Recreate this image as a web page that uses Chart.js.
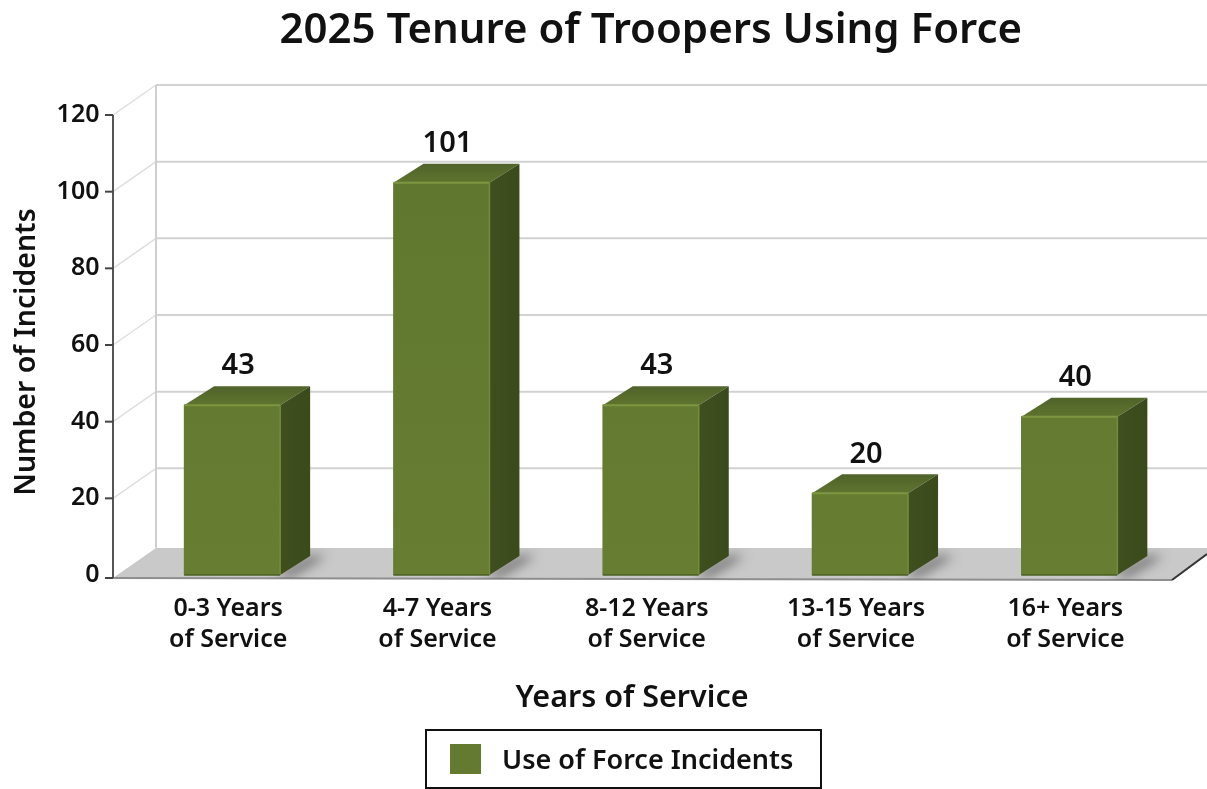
<!DOCTYPE html>
<html>
<head>
<meta charset="utf-8">
<title>2025 Tenure of Troopers Using Force</title>
<script src="https://cdn.jsdelivr.net/npm/chart.js@4"></script>
<style>
  html, body { margin: 0; padding: 0; background: #fff; overflow: hidden; }
  canvas { display: block; }
</style>
</head>
<body>
<canvas id="chart" width="1207" height="789"></canvas>
<script>
const chartTitle = '2025 Tenure of Troopers Using Force';
const xTitle = 'Years of Service';
const yTitle = 'Number of Incidents';
const seriesName = 'Use of Force Incidents';
const categories = [
  ['0-3 Years', 'of Service'],
  ['4-7 Years', 'of Service'],
  ['8-12 Years', 'of Service'],
  ['13-15 Years', 'of Service'],
  ['16+ Years', 'of Service']
];
const incidents = [43, 101, 43, 20, 40];
const yTicks = [0, 20, 40, 60, 80, 100, 120];

const FONT = '"Noto Sans", sans-serif';
const TEXT = '#111';

// fake 3d: how far the back wall and the bar depth sit from the front plane
const WALL_DX = 43, WALL_DY = -30;
const BAR_DX = 30, BAR_DY = -19;
const BAR_LIFT = 5;
const AXIS_X = 113;

function poly(ctx, pts, fill) {
  ctx.beginPath();
  pts.forEach((p, i) => i ? ctx.lineTo(p[0], p[1]) : ctx.moveTo(p[0], p[1]));
  ctx.closePath();
  if (fill) { ctx.fillStyle = fill; ctx.fill(); }
}

function line(ctx, x1, y1, x2, y2, color, width) {
  ctx.strokeStyle = color;
  ctx.lineWidth = width;
  ctx.beginPath();
  ctx.moveTo(x1, y1);
  ctx.lineTo(x2, y2);
  ctx.stroke();
}

function text(ctx, str, x, y, font) {
  ctx.font = font;
  ctx.fillStyle = TEXT;
  ctx.textAlign = 'center';
  ctx.textBaseline = 'middle';
  ctx.fillText(str, x, y);
}

const box3d = {
  id: 'box3d',
  afterDatasetsUpdate(chart) {
    // front faces sit a little inside the plot, so the tops rise off the grid
    chart.getDatasetMeta(0).data.forEach(bar => {
      bar.y -= BAR_LIFT;
      bar.height = bar.base - bar.y;
    });
  },
  beforeDatasetsDraw(chart) {
    const { ctx, scales: { y }, width } = chart;
    const zero = y.getPixelForValue(0);
    const backX = AXIS_X + WALL_DX;
    const top = y.getPixelForValue(120);
    ctx.save();

    // floor
    const floorBack = zero - 27;
    const floor = [[AXIS_X, zero + 3], [backX, floorBack], [width, floorBack], [width, 555], [1172, zero + 5]];
    poly(ctx, floor, '#c9c9c9');

    // walls and grid
    yTicks.forEach(v => {
      const py = y.getPixelForValue(v);
      if (v > 0) {
        line(ctx, backX, py + WALL_DY, width, py + WALL_DY, '#d2d2d2', 2);
        line(ctx, AXIS_X, py, backX, py + WALL_DY, '#dedede', 1.5);
      }
    });
    line(ctx, backX, top + WALL_DY, backX, floorBack, '#cfcfcf', 2);

    // floor edges
    line(ctx, AXIS_X, zero + 3, 1172, zero + 5, '#8e8e8e', 2);
    line(ctx, 1172, zero + 5, width, 554, '#333', 2);

    // bar shadows on the floor
    ctx.save();
    poly(ctx, floor);
    ctx.clip();
    ctx.filter = 'blur(6px)';
    chart.getDatasetMeta(0).data.forEach(bar => {
      const r = bar.x + bar.width / 2;
      poly(ctx, [[r - 4, bar.base], [r + BAR_DX, bar.base + BAR_DY], [r + BAR_DX + 16, bar.base + BAR_DY], [r + 10, bar.base + 2]], 'rgba(40,40,40,.6)');
    });
    ctx.restore();

    // value axis
    line(ctx, AXIS_X, top, AXIS_X, zero + 3, '#555', 2);
    yTicks.forEach(v => {
      const py = y.getPixelForValue(v);
      line(ctx, AXIS_X - 8, v ? py : zero + 3, AXIS_X, v ? py : zero + 3, '#444', 2);
    });
    ctx.restore();
  },
  afterDatasetsDraw(chart) {
    const { ctx } = chart;
    ctx.save();
    chart.getDatasetMeta(0).data.forEach((bar, i) => {
      const l = bar.x - bar.width / 2, r = bar.x + bar.width / 2;

      const topFace = ctx.createLinearGradient(0, bar.y + BAR_DY, 0, bar.y);
      topFace.addColorStop(0, '#50632a');
      topFace.addColorStop(1, '#5f742e');
      poly(ctx, [[l, bar.y], [l + BAR_DX, bar.y + BAR_DY], [r + BAR_DX, bar.y + BAR_DY], [r, bar.y]], topFace);

      const sideFace = ctx.createLinearGradient(r, 0, r + BAR_DX, 0);
      sideFace.addColorStop(0, '#3f4f1e');
      sideFace.addColorStop(1, '#3a4a1b');
      poly(ctx, [[r, bar.y], [r + BAR_DX, bar.y + BAR_DY], [r + BAR_DX, bar.base + BAR_DY], [r, bar.base]], sideFace);

      line(ctx, l, bar.y, r, bar.y, '#7d9642', 2);
      line(ctx, r, bar.y, r, bar.base, '#748c3c', 1.5);
      line(ctx, l, bar.base, r, bar.base, '#4d6024', 1.5);

      text(ctx, String(incidents[i]), bar.x + 6, bar.y + BAR_DY - 20, `600 29px ${FONT}`);
    });

    // axis titles
    text(ctx, xTitle, 632, 698, `600 30.5px ${FONT}`);
    ctx.save();
    ctx.translate(27, 352);
    ctx.rotate(-Math.PI / 2);
    text(ctx, yTitle, 0, 0, `600 28.5px ${FONT}`);
    ctx.restore();

    // legend
    ctx.strokeStyle = '#111';
    ctx.lineWidth = 2;
    ctx.strokeRect(426, 730, 395, 58);
    ctx.fillStyle = '#647a30';
    ctx.fillRect(450, 744, 31, 30);
    ctx.font = `600 27px ${FONT}`;
    ctx.fillStyle = TEXT;
    ctx.textAlign = 'left';
    ctx.textBaseline = 'middle';
    ctx.fillText(seriesName, 502, 761);
    ctx.restore();
  }
};

new Chart(document.getElementById('chart'), {
  type: 'bar',
  data: {
    labels: categories,
    datasets: [{
      label: seriesName,
      data: incidents,
      barThickness: 96,
      borderWidth: 0,
      backgroundColor(c) {
        const area = c.chart.chartArea;
        if (!area) return '#647a30';
        const g = c.chart.ctx.createLinearGradient(0, area.top, 0, area.bottom);
        g.addColorStop(0, '#5f762e');
        g.addColorStop(1, '#667d32');
        return g;
      }
    }]
  },
  options: {
    responsive: false,
    animation: false,
    layout: { padding: { right: 33 } },
    plugins: {
      legend: { display: false },
      tooltip: { enabled: false },
      title: {
        display: true,
        text: chartTitle,
        fullSize: false,
        color: TEXT,
        font: { family: FONT, size: 42, weight: '600', lineHeight: 1.2 },
        padding: { top: 6, bottom: 58.6 }
      }
    },
    scales: {
      x: {
        grid: { display: false },
        border: { display: false },
        afterFit(s) { s.height = 214; },
        ticks: {
          color: TEXT,
          font: { family: FONT, size: 25, weight: '600', lineHeight: 1.24 },
          padding: 10,
          labelOffset: -4,
          maxRotation: 0,
          autoSkip: false
        }
      },
      y: {
        min: 0,
        max: 120,
        grid: { display: false },
        border: { display: false },
        afterFit(s) { s.width = 127.5; },
        afterBuildTicks(s) { s.ticks = yTicks.map(value => ({ value })); },
        ticks: {
          color: TEXT,
          font: { family: FONT, size: 25, weight: '600' },
          padding: 20
        }
      }
    }
  },
  plugins: [box3d]
});
</script>
</body>
</html>
